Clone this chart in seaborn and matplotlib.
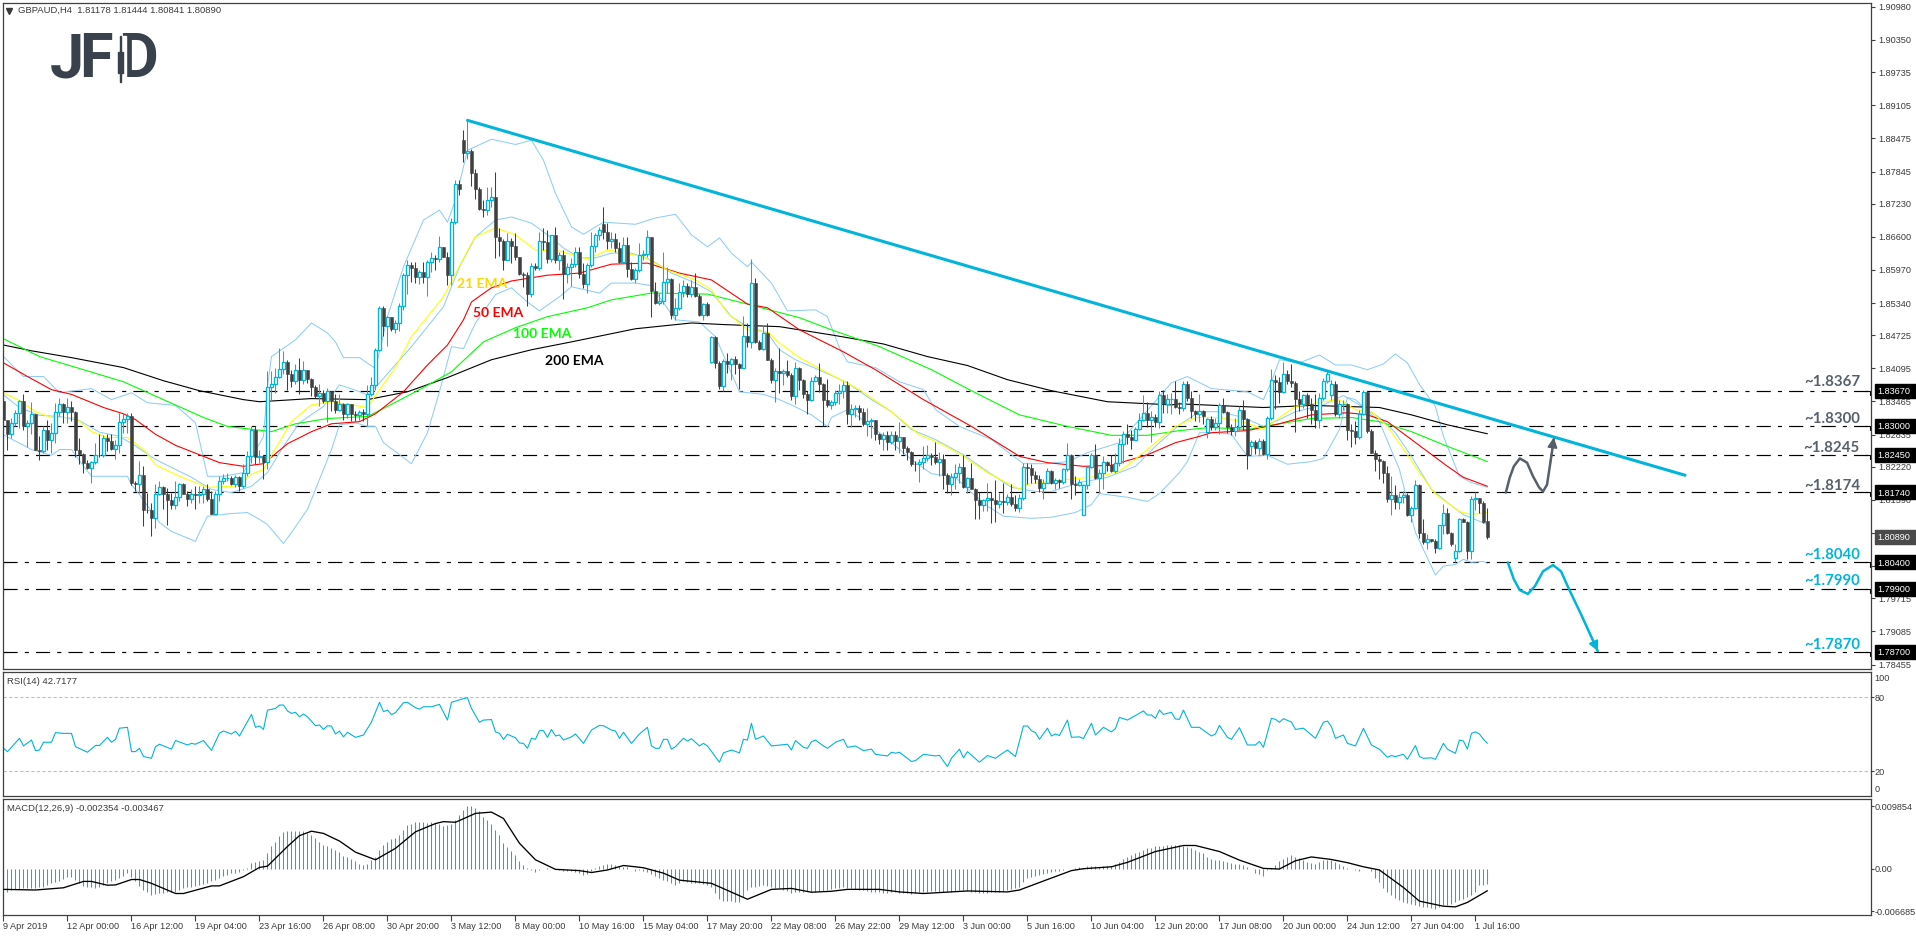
import numpy as np
import pandas as pd
import matplotlib
matplotlib.use("Agg")
import matplotlib.pyplot as plt
from matplotlib.patches import Rectangle
import seaborn as sns

# GBPAUD H4 quotes, in pips (1 pip = 0.0001)
first_open = 18347
closes = [
18311,18285,18306,18325,18347,18299,18306,18323,18255,18253,
18293,18274,18287,18327,18341,18326,18336,18326,18255,18247,
18230,18220,18232,18245,18244,18277,18271,18256,18264,18308,
18313,18318,18192,18190,18207,18140,18139,18125,18171,18184,
18171,18159,18149,18165,18189,18171,18161,18170,18168,18170,
18179,18160,18132,18171,18195,18201,18201,18189,18203,18185,
18211,18242,18292,18241,18242,18231,18374,18379,18393,18408,
18422,18398,18385,18407,18387,18406,18389,18375,18356,18363,
18347,18366,18347,18330,18342,18322,18341,18322,18320,18327,
18322,18360,18377,18445,18524,18490,18507,18484,18496,18529,
18588,18607,18600,18583,18594,18583,18612,18619,18617,18640,
18622,18588,18688,18760,18751,18820,18824,18781,18752,18714,
18712,18731,18735,18660,18653,18616,18652,18643,18621,18590,
18588,18552,18605,18601,18653,18651,18617,18664,18615,18626,
18590,18602,18609,18632,18590,18571,18607,18643,18663,18673,
18670,18653,18655,18638,18613,18644,18599,18579,18597,18626,
18628,18659,18556,18534,18537,18574,18579,18512,18524,18555,
18567,18552,18564,18548,18512,18533,18512,18469,18420,18376,
18423,18417,18427,18417,18410,18471,18459,18573,18459,18447,
18477,18426,18387,18405,18400,18404,18396,18356,18410,18388,
18360,18350,18386,18393,18379,18349,18339,18346,18363,18367,
18377,18323,18332,18335,18326,18303,18310,18311,18285,18275,
18282,18269,18282,18272,18278,18257,18250,18228,18227,18232,
18239,18244,18241,18232,18236,18206,18190,18203,18211,18222,
18184,18201,18180,18158,18149,18158,18163,18159,18151,18157,
18155,18165,18151,18143,18163,18222,18220,18206,18198,18182,
18192,18215,18191,18197,18194,18217,18244,18189,18188,18193,
18187,18222,18244,18200,18211,18232,18225,18215,18229,18266,
18285,18279,18274,18295,18312,18325,18311,18317,18307,18358,
18342,18351,18351,18336,18334,18379,18353,18328,18323,18329,
18318,18314,18298,18306,18339,18326,18298,18290,18298,18331,
18314,18244,18270,18257,18272,18246,18315,18388,18383,18365,
18399,18385,18382,18352,18341,18358,18341,18331,18312,18353,
18386,18399,18379,18322,18341,18341,18292,18290,18279,18323,
18365,18291,18249,18236,18233,18211,18160,18169,18155,18164,
18168,18130,18144,18187,18096,18078,18084,18081,18067,18111,
18135,18096,18075,18061,18123,18117,18062,18160,18162,18153,
18116,18089]
highs = [
18353,18312,18315,18331,18350,18360,18312,18346,18323,18280,
18299,18312,18306,18344,18353,18344,18353,18347,18328,18277,
18249,18235,18233,18268,18284,18282,18284,18284,18273,18325,
18325,18325,18325,18195,18233,18223,18173,18154,18189,18195,
18185,18182,18173,18195,18192,18192,18176,18179,18185,18185,
18185,18189,18176,18176,18204,18208,18211,18204,18206,18204,
18227,18252,18299,18299,18255,18244,18404,18404,18410,18448,
18442,18425,18407,18417,18429,18423,18407,18391,18377,18379,
18369,18372,18367,18361,18360,18344,18344,18341,18328,18331,
18332,18377,18394,18448,18528,18528,18509,18507,18502,18535,
18592,18616,18613,18613,18597,18613,18616,18632,18626,18662,
18641,18632,18695,18768,18769,18863,18882,18828,18790,18755,
18730,18755,18755,18784,18676,18655,18668,18657,18668,18622,
18594,18594,18610,18610,18670,18676,18673,18664,18678,18632,
18635,18611,18619,18641,18641,18610,18610,18670,18667,18679,
18716,18686,18670,18667,18651,18660,18660,18613,18600,18648,
18635,18673,18660,18575,18553,18632,18603,18581,18543,18572,
18578,18572,18578,18591,18552,18535,18536,18471,18471,18423,
18427,18439,18429,18433,18420,18510,18496,18617,18581,18464,
18490,18496,18429,18410,18448,18408,18426,18401,18422,18412,
18389,18366,18394,18396,18420,18382,18389,18350,18369,18379,
18385,18385,18341,18339,18339,18334,18334,18315,18311,18287,
18288,18290,18290,18290,18307,18279,18261,18252,18233,18237,
18261,18263,18249,18270,18250,18246,18210,18211,18228,18230,
18244,18203,18230,18182,18174,18160,18191,18174,18197,18173,
18191,18170,18189,18168,18170,18230,18230,18227,18214,18206,
18198,18220,18216,18201,18199,18220,18268,18247,18204,18198,
18189,18223,18249,18266,18218,18242,18233,18244,18249,18277,
18290,18303,18293,18298,18325,18358,18345,18328,18322,18366,
18368,18360,18363,18385,18345,18385,18385,18366,18331,18360,
18331,18315,18318,18315,18344,18353,18328,18303,18315,18337,
18350,18315,18274,18273,18277,18275,18318,18409,18396,18394,
18422,18407,18417,18385,18366,18361,18363,18353,18361,18363,
18391,18406,18387,18385,18350,18350,18344,18303,18309,18331,
18368,18366,18294,18255,18242,18235,18223,18204,18188,18173,
18176,18173,18147,18196,18189,18122,18094,18085,18084,18111,
18151,18144,18098,18075,18125,18125,18119,18166,18174,18163,
18157,18144]
lows = [
18271,18255,18277,18299,18296,18293,18260,18284,18254,18235,
18249,18255,18249,18268,18318,18306,18306,18309,18241,18227,
18211,18217,18192,18227,18241,18241,18252,18255,18237,18249,
18287,18287,18187,18176,18173,18109,18135,18090,18106,18168,
18141,18111,18142,18141,18157,18170,18147,18154,18141,18153,
18154,18157,18132,18140,18157,18189,18195,18187,18184,18176,
18182,18204,18230,18227,18230,18198,18217,18347,18363,18391,
18398,18368,18375,18379,18361,18379,18382,18356,18353,18337,
18344,18307,18328,18325,18328,18312,18315,18309,18309,18312,
18309,18299,18356,18369,18445,18471,18452,18480,18477,18480,
18521,18552,18575,18573,18571,18572,18548,18594,18597,18613,
18621,18569,18569,18685,18740,18803,18809,18757,18733,18711,
18697,18702,18716,18619,18624,18596,18615,18611,18616,18588,
18564,18529,18545,18597,18596,18635,18611,18613,18611,18597,
18541,18572,18567,18603,18581,18562,18554,18603,18632,18654,
18655,18636,18638,18632,18611,18610,18584,18577,18572,18594,
18616,18622,18507,18533,18531,18533,18553,18503,18502,18520,
18546,18546,18546,18546,18509,18502,18510,18420,18410,18371,
18366,18401,18388,18398,18371,18410,18450,18448,18458,18444,
18445,18425,18382,18345,18363,18377,18394,18349,18341,18369,
18353,18323,18347,18385,18364,18299,18336,18332,18339,18342,
18353,18303,18298,18317,18312,18299,18280,18277,18274,18265,
18255,18254,18265,18255,18249,18246,18235,18223,18214,18193,
18217,18233,18225,18227,18204,18180,18173,18168,18179,18191,
18182,18172,18179,18123,18122,18138,18138,18115,18116,18144,
18135,18149,18147,18138,18136,18159,18189,18191,18192,18174,
18160,18191,18189,18179,18182,18189,18214,18160,18168,18185,
18130,18180,18220,18198,18173,18180,18214,18212,18210,18223,
18230,18265,18256,18273,18292,18309,18298,18269,18298,18296,
18325,18325,18322,18334,18322,18328,18347,18315,18309,18307,
18303,18277,18293,18293,18285,18325,18287,18282,18280,18293,
18293,18217,18244,18246,18246,18244,18236,18312,18332,18344,
18363,18379,18375,18288,18328,18334,18315,18304,18296,18296,
18350,18382,18350,18318,18315,18331,18273,18260,18265,18275,
18320,18287,18248,18214,18198,18192,18155,18130,18141,18141,
18154,18129,18116,18142,18087,18075,18065,18078,18058,18065,
18094,18094,18072,18040,18059,18116,18047,18047,18140,18135,
18115,18084]
# bars that open away from the previous close
gap_bars = [115, 150, 177, 270, 301, 312, 332, 363, 371]
gap_opens = [18844, 18684, 18421, 18131, 18288, 18261, 18358, 18049, 18118]

ema21_bars = [0,4,8,12,18,22,26,31,35,38,44,51,57,59,62,65,69,72,77,82,87,91,94,98,102,110,117,118,123,128,133,139,146,151,154,160,166,173,177,181,186,191,194,199,207,214,222,229,235,240,246,254,256,266,274,279,286,293,298,304,310,315,319,323,330,334,338,342,346,351,354,358,364,367,371]
ema21_vals = [18363,18348,18327,18316,18316,18289,18278,18278,18255,18226,18204,18183,18185,18187,18208,18217,18270,18308,18340,18346,18340,18335,18369,18411,18470,18546,18648,18660,18677,18664,18635,18633,18618,18635,18631,18622,18597,18578,18559,18515,18483,18479,18458,18430,18397,18369,18327,18283,18264,18242,18211,18179,18189,18198,18204,18213,18255,18299,18316,18316,18308,18293,18316,18337,18346,18350,18331,18327,18299,18245,18211,18170,18137,18131,18135]
ema50_bars = [0,6,12,17,25,30,33,38,43,50,54,60,65,71,77,82,89,93,100,106,111,115,117,122,127,136,144,152,161,169,177,186,191,199,210,218,230,242,254,261,270,277,286,293,299,302,311,319,327,336,341,346,352,361,365,371]
ema50_vals = [18420,18394,18369,18360,18335,18323,18312,18284,18263,18242,18230,18223,18228,18266,18289,18304,18308,18323,18365,18416,18454,18502,18536,18563,18576,18587,18591,18608,18610,18591,18578,18532,18525,18483,18441,18407,18350,18299,18242,18230,18223,18225,18245,18268,18280,18287,18291,18304,18321,18325,18321,18308,18274,18223,18202,18185]
ema100_bars = [0,9,20,30,40,50,56,67,73,81,91,96,105,112,120,128,136,146,152,162,176,186,199,207,219,232,242,254,266,277,286,294,299,302,311,319,327,337,344,352,361,371]
ema100_vals = [18466,18432,18407,18384,18350,18316,18299,18289,18304,18314,18318,18337,18373,18403,18460,18487,18508,18525,18540,18553,18551,18532,18506,18483,18451,18407,18367,18321,18299,18282,18282,18291,18295,18297,18293,18304,18314,18316,18308,18289,18261,18232]
ema200_bars = [0,7,17,30,40,49,60,64,77,91,101,111,122,132,142,158,172,180,194,208,220,231,241,251,262,276,292,294,315,327,344,352,361,371]
ema200_vals = [18454,18443,18430,18411,18386,18367,18350,18346,18352,18350,18365,18392,18426,18445,18460,18485,18496,18493,18489,18472,18456,18432,18415,18388,18367,18346,18340,18342,18335,18339,18335,18321,18302,18285]

bb_upper_bars = [0,5,10,14,22,27,32,36,43,48,51,55,60,65,66,67,73,77,81,83,85,89,93,96,100,105,109,111,113,116,122,128,132,135,138,142,145,150,158,163,168,172,176,179,182,186,187,192,196,203,206,209,211,218,224,230,233,239,247,255,261,266,271,279,284,289,292,296,302,311,315,317,319,324,329,333,337,341,345,348,351,354,358,360,364,367,371]
bb_upper_vals = [18432,18394,18394,18363,18371,18350,18363,18344,18339,18306,18204,18204,18211,18280,18375,18432,18464,18496,18477,18460,18430,18430,18409,18508,18603,18692,18711,18688,18730,18825,18846,18836,18844,18806,18743,18679,18665,18688,18684,18696,18703,18664,18641,18658,18629,18603,18612,18572,18519,18521,18508,18449,18422,18411,18384,18369,18331,18299,18274,18228,18228,18232,18249,18268,18312,18356,18382,18394,18371,18365,18350,18384,18426,18420,18435,18416,18416,18407,18418,18437,18420,18379,18337,18280,18204,18192,18183]
bb_mid_bars = [0,4,9,14,19,24,29,33,38,42,47,52,57,62,66,70,74,80,84,88,91,94,102,110,114,118,123,127,132,136,140,144,148,152,157,162,167,173,177,182,186,191,194,198,205,211,217,222,227,233,240,246,252,258,262,269,276,283,288,294,299,304,310,315,319,323,330,335,339,344,348,352,357,361,365,371]
bb_mid_vals = [18359,18335,18320,18318,18310,18288,18280,18262,18236,18221,18202,18179,18173,18185,18211,18261,18306,18337,18378,18368,18359,18382,18451,18527,18603,18660,18692,18698,18686,18664,18639,18620,18620,18629,18629,18616,18591,18572,18555,18508,18489,18477,18445,18426,18403,18382,18350,18327,18293,18274,18245,18213,18183,18175,18175,18192,18202,18223,18261,18302,18327,18327,18316,18299,18312,18327,18340,18358,18340,18316,18287,18242,18179,18154,18131,18112]
bb_lower_bars = [0,7,12,14,17,20,22,31,32,34,39,42,48,49,51,57,61,64,66,70,72,76,79,82,84,88,91,93,95,102,106,109,112,115,118,123,127,131,134,139,142,149,152,158,162,168,174,178,184,190,194,197,202,206,207,211,214,219,222,227,232,238,242,246,250,257,262,268,272,274,281,286,289,294,296,299,304,307,311,316,321,327,330,334,336,338,344,349,353,358,360,363,365,367,370,371]
bb_lower_vals = [18283,18255,18244,18255,18255,18223,18204,18204,18188,18169,18116,18099,18080,18097,18128,18133,18135,18122,18112,18076,18097,18141,18198,18255,18302,18306,18299,18299,18268,18228,18287,18365,18451,18447,18496,18550,18563,18536,18519,18546,18565,18553,18572,18572,18567,18502,18498,18470,18365,18360,18350,18340,18321,18299,18316,18331,18316,18287,18268,18236,18209,18202,18173,18147,18128,18124,18126,18135,18150,18171,18164,18156,18171,18211,18232,18287,18287,18284,18242,18244,18227,18232,18238,18293,18354,18350,18308,18217,18097,18016,18033,18036,18046,18040,18042,18038]

rsi_bars = [0,1,4,5,7,8,9,10,12,13,15,17,18,21,23,24,26,27,28,29,31,32,33,34,35,37,38,39,42,43,46,47,48,50,52,54,55,57,58,59,62,63,64,65,66,67,68,69,70,71,72,73,74,75,76,78,79,80,81,82,83,84,85,86,88,90,92,94,95,96,97,98,100,101,103,104,105,107,109,111,112,115,116,117,119,120,122,123,124,125,126,128,129,130,131,132,133,134,135,136,137,138,139,140,142,143,145,147,149,150,152,153,154,155,157,159,161,162,163,164,165,166,167,168,170,171,172,174,175,176,179,180,182,184,185,186,187,188,190,192,196,197,198,200,201,202,203,205,206,208,210,211,213,215,217,218,221,222,223,224,227,228,230,233,234,236,237,239,240,241,244,246,248,249,251,253,255,256,257,258,259,261,262,263,264,266,267,269,270,272,273,275,277,278,279,281,285,286,287,288,289,290,292,293,294,295,297,299,302,303,304,306,307,309,311,312,313,314,315,317,318,319,320,322,323,325,328,330,331,332,333,335,336,338,340,342,344,346,347,348,350,351,353,354,355,357,358,360,361,363,364,365,366,367,368,369,370,371]
rsi_vals = [38.7,36,46.8,40.6,45.4,36.8,37.3,43.6,43.6,51.4,50.8,50.8,40,35.5,41,41,47.6,43.6,46,55,55.7,36,36,38.7,32,30.6,40,42,38,45,41.4,42.7,42,45,37,51,52.7,50.3,52.5,48.7,66.2,55.7,56.8,54,69.7,70.3,71,73.8,73.8,69,67,67.9,64.3,66.5,64.3,57,57.6,54,57,56.7,50.3,52.7,48,51.7,47.6,49.5,60,76,68.4,69.7,66,67.6,75.7,76,71.6,70.5,72.4,72.4,74.3,61.6,76,79,79.7,71,59.8,61.6,62,52,50.8,46,50,47.3,43,42.7,38.7,46.8,46,53,53,47.6,54,48.7,49.5,45.4,48,50.3,42.7,53.5,57.3,57,53.5,52.7,46.8,51.7,42.7,50.3,55.7,40.6,38.7,38.7,46,46,38,40,46.8,44.6,46.5,40.6,42.7,40.6,27.4,35,37.3,35,46,45.4,59,46,48.7,40.6,42,37.3,45,39.5,38.7,44,45.4,40.6,38.7,43.6,46,39.5,40.6,36.8,38,33.8,32.5,35.5,34.7,35.5,28,28.7,33.8,32.5,33,23.8,30.6,38,31,36,27.4,32.8,30.6,33,37.3,32,56.8,56.8,53,51.4,46,55,48.7,50.3,49,61.6,47.6,48,46.5,59,49.5,55.7,52,54.7,63.8,61.6,69,65.7,65.7,63,69.7,66.2,67.9,62.5,62.2,69.7,55.7,55.7,48.7,50.3,57.3,47.6,46,55.4,41.4,41.4,41.4,44.3,39.5,63,62.2,59.8,62.7,60,54,55,46.8,59.8,60.8,56.2,46.8,49.5,42.7,40.6,54.9,41.4,38,31.4,32.8,32,33.8,29.8,40.9,32,30.6,31,29.8,42.7,38,34.6,45.4,44.6,38,50.8,52,50.3,46,42.72]

macd_hist = [
-3.6,-3.6,-3.4,-3.2,-3.2,-3.1,-3.1,-3.0,-3.0,-2.9,
-2.8,-2.6,-2.3,-2.1,-1.9,-1.6,-1.3,-1.3,-1.8,-2.2,
-2.7,-2.8,-2.9,-3.0,-2.9,-2.6,-2.3,-2.0,-1.7,-1.4,
-1.2,-0.6,-1.3,-2.0,-2.7,-3.4,-3.7,-4.1,-4.0,-3.8,
-3.8,-3.7,-3.6,-3.6,-3.4,-3.1,-2.9,-2.8,-2.7,-2.6,
-2.4,-2.2,-2.0,-1.8,-1.4,-1.2,-1.0,-0.7,-0.6,-0.5,
-0.2,0.05,0.9,1.1,1.2,1.4,2.5,3.5,4.2,5.2,
5.8,5.9,6.0,6.0,6.0,5.9,5.6,5.3,4.8,4.2,
3.8,3.6,3.3,2.9,2.7,2.0,1.8,1.5,1.2,0.7,
0.6,0.7,1.4,1.9,3.0,3.7,4.2,4.7,4.8,5.3,
6.1,6.9,7.1,7.3,7.3,7.3,7.2,7.3,7.2,7.1,
6.7,6.8,7.0,7.7,8.4,9.2,9.85,9.85,9.5,9.0,
8.2,7.7,7.1,6.1,5.3,4.0,3.4,2.8,2.1,1.2,
0.6,0.1,-0.2,-0.5,-0.2,-0.1,0.05,-0.1,-0.1,-0.2,
-0.3,-0.4,-0.4,-0.5,-0.7,-1.0,-0.9,-0.3,0.1,0.4,
0.6,0.7,0.7,0.6,0.4,0.3,0.2,0.0,-0.3,-0.2,
-0.3,-0.5,-0.9,-1.2,-1.5,-1.8,-2.0,-2.3,-2.6,-2.3,
-2.0,-2.1,-2.2,-2.3,-2.3,-2.4,-2.5,-2.8,-3.8,-4.8,
-5.0,-5.1,-5.1,-5.2,-5.2,-4.4,-3.4,-2.8,-2.8,-2.7,
-2.6,-2.7,-2.9,-3.0,-3.1,-3.3,-3.5,-3.8,-3.7,-3.6,
-3.6,-3.5,-3.6,-3.6,-3.5,-3.5,-3.4,-3.2,-3.1,-3.0,
-2.9,-3.0,-3.1,-3.2,-3.3,-3.4,-3.5,-3.6,-3.7,-3.7,
-3.8,-3.8,-3.7,-3.7,-3.8,-3.8,-3.8,-3.9,-3.8,-3.7,
-3.6,-3.6,-3.5,-3.5,-3.6,-3.6,-3.7,-3.6,-3.5,-3.4,
-3.4,-3.5,-3.6,-3.7,-3.8,-3.8,-3.8,-3.7,-3.7,-3.6,
-3.5,-3.4,-3.2,-3.0,-2.8,-2.1,-1.5,-1.3,-1.2,-1.0,
-0.8,-0.6,-0.5,-0.4,-0.3,-0.2,-0.1,0.0,0.1,0.2,
0.1,0.4,0.4,0.4,0.3,0.4,0.4,0.5,0.8,1.1,
1.5,1.8,2.1,2.4,2.7,3.0,3.2,3.3,3.5,3.6,
3.6,3.7,3.7,3.7,3.7,3.6,3.4,3.2,2.9,2.7,
2.4,1.9,1.5,1.4,1.3,1.2,1.1,0.9,0.8,0.7,
0.6,0.3,-0.1,-0.6,-0.8,-1.1,-0.2,0.1,0.6,1.2,
1.5,1.9,2.2,1.9,1.7,1.4,1.1,0.9,0.7,1.0,
1.4,1.4,1.4,1.1,0.7,0.4,0.1,-0.1,-0.2,-0.4,
-0.1,0.0,-0.4,-1.4,-2.1,-3.0,-3.7,-4.1,-4.6,-4.9,
-5.2,-5.4,-5.6,-5.7,-5.8,-6.0,-6.1,-6.2,-6.3,-6.0,
-5.7,-5.7,-5.6,-5.3,-4.9,-4.8,-4.5,-4.2,-3.7,-2.5,
-2.5,-2.354]
macd_sig_bars = [0,8,15,20,22,26,28,32,34,37,43,45,52,54,60,64,66,71,74,77,80,84,88,93,98,103,108,110,113,118,122,125,129,133,138,144,147,151,155,158,160,165,169,177,186,192,197,202,207,211,219,224,230,241,251,254,261,267,270,277,281,288,295,298,304,309,315,319,323,327,332,336,340,344,350,354,360,363,366,371]
macd_sig_vals = [-3.25,-3.35,-3.0,-2.0,-2.0,-2.6,-2.55,-1.7,-1.7,-2.3,-3.9,-3.9,-2.7,-2.7,-1.25,0.2,0.4,3.5,5.2,5.9,5.55,4.35,2.6,1.4,3.2,5.8,7.1,7.4,7.3,8.7,8.9,7.9,4.0,1.4,-0.1,-0.3,-0.6,-0.2,0.5,0.3,0.15,-0.7,-1.8,-2.3,-4.8,-3.25,-3.1,-3.7,-3.55,-3.25,-3.25,-3.65,-3.9,-3.5,-3.65,-3.35,-1.7,-0.3,0.0,0.3,1.0,2.7,3.65,3.65,2.7,1.35,0.05,-0.05,1.25,1.85,1.45,0.95,0.3,-0.2,-2.95,-5.1,-5.9,-6.0,-5.3,-3.467]

date_labels = ["9 Apr 2019","12 Apr 00:00","16 Apr 12:00","19 Apr 04:00","23 Apr 16:00","26 Apr 08:00",
               "30 Apr 20:00","3 May 12:00","8 May 00:00","10 May 16:00","15 May 04:00","17 May 20:00",
               "22 May 08:00","26 May 22:00","29 May 12:00","3 Jun 00:00","5 Jun 16:00","10 Jun 04:00",
               "12 Jun 20:00","17 Jun 08:00","20 Jun 00:00","24 Jun 12:00","27 Jun 04:00","1 Jul 16:00"]
price_ticks = [1.90980,1.90350,1.89735,1.89105,1.88475,1.87845,1.87230,1.86600,1.85970,1.85340,1.84725,
               1.84095,1.83465,1.82835,1.82220,1.81590,1.80960,1.80330,1.79715,1.79085,1.78455]
levels = [1.8367,1.8300,1.8245,1.8174,1.8040,1.7990,1.7870]
level_colors = ["#56606b"]*4 + ["#00b4dc"]*3
level_label_y = [1.83840,1.83136,1.82584,1.81861,1.80548,1.80054,1.78836]

trend_bars = [116, 420.4]
trend_price = [1.8882, 1.8206]
up_path_bars = [375.6,376.6,377.6,379.1,380.9,382.4,383.9,384.9,385.9,386.6,387.6]
up_path_price = [1.8173,1.8202,1.8223,1.8238,1.8230,1.8204,1.8183,1.8175,1.8188,1.8223,1.8274]
down_path_bars = [376.1,377.6,379.1,381.1,382.9,384.9,387.4,389.4,391.4,394.6,398.6]
down_path_price = [1.8040,1.8008,1.7987,1.7980,1.7995,1.8023,1.8035,1.8023,1.7989,1.7938,1.7871]

BLUE = "#00b4dc"
DARK = "#404040"
FRAME = "#404040"
TXT = "#3a3a3a"
TICK_FONT = "Liberation Sans"
NOTE_FONT = "Lato"
TICK_SIZE = 6.6

sns.set_theme(style="white")
plt.rcParams["font.family"] = [TICK_FONT, "DejaVu Sans"]

W, H = 1916, 936
fig = plt.figure(figsize=(W/100, H/100), dpi=100, facecolor="white")


def panel(top, bottom, left=2.5, right=1871):
    return fig.add_axes([left/W, 1-bottom/H, (right-left)/W, (bottom-top)/H])


ax = panel(2.5, 668.5)
ax_rsi = panel(671.5, 796)
ax_macd = panel(798.5, 915)
xlim = (-0.25, 466.9)


def qline(target, bars, vals, color, lw=0.72, scale=1e-4, z=2):
    frame = pd.DataFrame({"bar": bars, "value": np.asarray(vals, float)*scale})
    sns.lineplot(data=frame, x="bar", y="value", color=color, lw=lw, ax=target,
                 estimator=None, errorbar=None, legend=False, zorder=z)


# price panel: horizontal levels beneath everything else
for lv in levels:
    ax.plot(xlim, [lv, lv], color="black", lw=0.85, dashes=(12, 6, 3.5, 6), zorder=1)
    ax.plot([0, 0, 1.2], [lv-0.0008, lv, lv], color="black", lw=0.8, zorder=1)
    ax.plot([465.4, 466.6, 466.6], [lv, lv, lv-0.0008], color="black", lw=0.8, zorder=1)

qline(ax, bb_upper_bars, bb_upper_vals, "#8accf8")
qline(ax, bb_mid_bars, bb_mid_vals, "#8accf8")
qline(ax, bb_lower_bars, bb_lower_vals, "#8accf8")
qline(ax, ema200_bars, ema200_vals, "black", lw=0.8)
qline(ax, ema100_bars, ema100_vals, "#00ff00", lw=0.8)
qline(ax, ema50_bars, ema50_vals, "#ff0000", lw=0.8)
qline(ax, ema21_bars, ema21_vals, "#ffff00", lw=0.8)

# candlesticks
c = np.asarray(closes, float)/1e4
h = np.asarray(highs, float)/1e4
l = np.asarray(lows, float)/1e4
o = np.r_[first_open/1e4, c[:-1]]
o[gap_bars] = np.asarray(gap_opens, float)/1e4
x = np.arange(len(c))
up = c >= o
ax.vlines(x[~up], l[~up], h[~up], color=DARK, lw=0.75, zorder=3)
ax.vlines(x[up], l[up], h[up], color=BLUE, lw=0.75, zorder=3)
ax.bar(x[~up], (o-c)[~up], bottom=c[~up], width=0.72, color=DARK, edgecolor=DARK, lw=0.4, zorder=4)
ax.bar(x[up], (c-o)[up], bottom=o[up], width=0.62, color="white", edgecolor=BLUE, lw=0.95, zorder=4)

# trend line and scenario paths
qline(ax, trend_bars, trend_price, BLUE, lw=2.2, scale=1, z=5)
qline(ax, up_path_bars, up_path_price, "#56606b", lw=1.8, scale=1, z=5)
qline(ax, down_path_bars, down_path_price, BLUE, lw=1.8, scale=1, z=5)
ax.annotate("", xy=(up_path_bars[-1], up_path_price[-1]+0.0004), xytext=(up_path_bars[-2], up_path_price[-2]),
            arrowprops=dict(arrowstyle="-|>", color="#56606b", lw=1.2, mutation_scale=15, shrinkA=0, shrinkB=0), zorder=6)
ax.annotate("", xy=(down_path_bars[-1], down_path_price[-1]), xytext=(down_path_bars[-2], down_path_price[-2]),
            arrowprops=dict(arrowstyle="-|>", color=BLUE, lw=1.2, mutation_scale=15, shrinkA=0, shrinkB=0), zorder=6)

ax.set_xlim(*xlim)
ax.set_ylim(1.78379, 1.91064)
ax.yaxis.tick_right()
ax.set_yticks(price_ticks)
ax.set_yticklabels([f"{t:.5f}" for t in price_ticks])
ax.set_xticks([])
ax.set_xlabel("")
ax.set_ylabel("")

# moving average names
for label, bar, price, col in [("21 EMA", 119.6, 1.8570, "#ffd700"), ("50 EMA", 123.6, 1.8515, "#ff0000"),
                               ("100 EMA", 134.6, 1.8475, "#00ff00"), ("200 EMA", 142.6, 1.8424, "black")]:
    ax.text(bar, price, label, color=col, fontsize=10, fontweight="bold", family=NOTE_FONT,
            ha="center", va="center", zorder=7)

# level captions and price tags on the scale
trans = ax.get_yaxis_transform()
to_ax = lambda px: (px-2.5)/(1871-2.5)
for lv, col, ly in zip(levels, level_colors, level_label_y):
    ax.text(to_ax(1860), ly, f"~{lv:.4f}", transform=trans, color=col, fontsize=10.8, fontweight="bold",
            family=NOTE_FONT, ha="right", va="center", zorder=7)
    ax.add_patch(Rectangle((to_ax(1875), lv-0.00135), to_ax(1916)-to_ax(1875), 0.0027, transform=trans,
                           color="black", clip_on=False, zorder=8))
    ax.text(to_ax(1877.5), lv, f"{lv:.5f}", transform=trans, color="white", fontsize=TICK_SIZE, ha="left",
            va="center_baseline", clip_on=False, zorder=9)
last_price = closes[-1]/1e4
ax.add_patch(Rectangle((to_ax(1875), last_price-0.00135), to_ax(1916)-to_ax(1875), 0.0027, transform=trans,
                       color="#4a4a4a", clip_on=False, zorder=8))
ax.text(to_ax(1877.5), last_price, f"{last_price:.5f}", transform=trans, color="white", fontsize=TICK_SIZE, ha="left",
        va="center_baseline", clip_on=False, zorder=9)

# RSI panel
ax_rsi.axhline(80, color="#c0c0c0", lw=0.8, dashes=(3, 2), zorder=1)
ax_rsi.axhline(20, color="#c0c0c0", lw=0.8, dashes=(3, 2), zorder=1)
qline(ax_rsi, rsi_bars, rsi_vals, BLUE, lw=0.8, scale=1)
ax_rsi.set_xlim(*xlim)
ax_rsi.set_ylim(0, 101.0)
ax_rsi.yaxis.tick_right()
ax_rsi.set_yticks([80, 20])
ax_rsi.set_yticklabels(["80", "20"])
ax_rsi.set_xticks([])
ax_rsi.set_xlabel("")
ax_rsi.set_ylabel("")
for val, pos in [("100", 95.5), ("0", 5.5)]:
    ax_rsi.text(1.0018, pos, val, transform=ax_rsi.get_yaxis_transform(), fontsize=TICK_SIZE, color=TXT,
                ha="left", va="center", clip_on=False)

# MACD panel
hist = np.asarray(macd_hist)/1e3
ax_macd.vlines(np.arange(len(hist)), 0, hist, color=BLUE, lw=0.75, zorder=2)
qline(ax_macd, macd_sig_bars, macd_sig_vals, "black", lw=0.95, scale=1e-3, z=3)
ax_macd.set_xlim(*xlim)
ax_macd.set_ylim(-0.00728, 0.01104)
ax_macd.yaxis.tick_right()
ax_macd.set_yticks([0.009854, 0, -0.006685])
ax_macd.set_yticklabels(["0.009854", "0.00", "-0.006685"])
ax_macd.set_xlabel("")
ax_macd.set_ylabel("")
ax_macd.set_xticks(np.arange(len(date_labels))*16)
ax_macd.set_xticklabels(date_labels, ha="left")

for a in (ax, ax_rsi, ax_macd):
    for s in a.spines.values():
        s.set_visible(True)
        s.set_color(FRAME)
        s.set_linewidth(0.9)
    a.set_facecolor("white")
    a.tick_params(axis="y", which="major", right=True, left=False, length=3, width=0.8, color=FRAME,
                  labelsize=TICK_SIZE, labelcolor=TXT, pad=2.2)
for a in (ax_rsi, ax_macd):
    a.tick_params(axis="y", length=2, pad=0.6)
ax_macd.tick_params(axis="x", which="major", bottom=True, length=4, width=0.8, color=FRAME,
                    labelsize=TICK_SIZE, labelcolor=TXT, pad=1)

# captions inside panels
ax.text(0.0083, 0.9877, "GBPAUD,H4  1.81178 1.81444 1.80841 1.80890", transform=ax.transAxes,
        fontsize=6.8, color=TXT, ha="left", va="center")
ax.plot([0.0035], [0.9877], marker="v", ms=4, color=TXT, transform=ax.transAxes, clip_on=False)
ax_rsi.text(0.0024, 0.92, "RSI(14) 42.7177", transform=ax_rsi.transAxes, fontsize=6.8, color=TXT, va="center")
ax_macd.text(0.0024, 0.915, "MACD(12,26,9) -0.002354 -0.003467", transform=ax_macd.transAxes, fontsize=6.8,
             color=TXT, va="center")

# broker mark: letters with a candle standing in for the stem of the D
for letter, cx in [("J", 67), ("F", 96), ("D", 138)]:
    fig.text(cx/W, 1-60/H, letter, fontsize=44, fontweight="bold", family="Roboto", color="#39424c",
             ha="center", va="center")
fig.add_artist(Rectangle((117/W, 1-84/H), 9/W, 48/H, transform=fig.transFigure, color="white", zorder=10))
fig.add_artist(Rectangle((119.7/W, 1-82/H), 1.6/W, 46/H, transform=fig.transFigure, color="#39424c", zorder=11))
fig.add_artist(Rectangle((118/W, 1-73/H), 5/W, 21/H, transform=fig.transFigure, color="#39424c", zorder=11))

fig.savefig("out.png", dpi=100, facecolor="white")
